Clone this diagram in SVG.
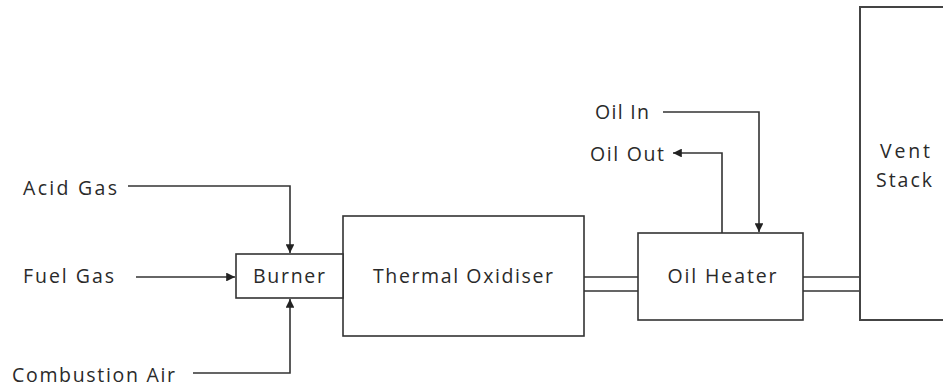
<svg xmlns="http://www.w3.org/2000/svg" width="943" height="387" viewBox="0 0 943 387">
<defs>
<style>
.box{fill:#fff;stroke:#333;stroke-width:1.6}
.ln{fill:none;stroke:#333;stroke-width:1.6}
.t{font-family:"Open Sans","Liberation Sans",Arial,sans-serif;font-size:19.5px;fill:#2a2a2a}
.c{text-anchor:middle}
</style>
<marker id="ah" viewBox="0 0 10 10" refX="10" refY="5" markerWidth="5.5" markerHeight="5.5" orient="auto" markerUnits="strokeWidth">
<path d="M0,0 L10,5 L0,10 Z" fill="#222"/>
</marker>
</defs>
<g id="connectors">
<path class="ln" d="M128,186 H290 V253" marker-end="url(#ah)"/>
<path class="ln" d="M136,277 H235" marker-end="url(#ah)"/>
<path class="ln" d="M193,373 H290 V299" marker-end="url(#ah)"/>
<path class="ln" d="M584,277 H638 M584,291 H638"/>
<path class="ln" d="M803,277 H860 M803,291 H860"/>
<path class="ln" d="M663,112 H759 V232" marker-end="url(#ah)"/>
<path class="ln" d="M722,233 V153 H673" marker-end="url(#ah)"/>
</g>
<g id="thermal-oxidiser">
<rect class="box" x="343" y="216" width="241" height="120"/>
<text class="t c" x="463" y="283" textLength="180" lengthAdjust="spacing">Thermal Oxidiser</text>
</g>
<g id="burner">
<rect class="box" x="236" y="254" width="107" height="44"/>
<text class="t c" x="289" y="283" textLength="72" lengthAdjust="spacing">Burner</text>
</g>
<g id="oil-heater">
<rect class="box" x="638" y="233" width="165" height="87"/>
<text class="t c" x="722" y="283" textLength="109" lengthAdjust="spacing">Oil Heater</text>
</g>
<g id="vent-stack">
<path class="ln" d="M945,7 H860 V320 H945" style="stroke:#444;stroke-width:2"/>
<text class="t c" x="905" y="158" textLength="50" lengthAdjust="spacing">Vent</text>
<text class="t c" x="904" y="187" textLength="56" lengthAdjust="spacing">Stack</text>
</g>
<g id="labels">
<text class="t" x="23" y="195" textLength="94" lengthAdjust="spacing">Acid Gas</text>
<text class="t" x="23" y="283" textLength="91" lengthAdjust="spacing">Fuel Gas</text>
<text class="t" x="12" y="382" textLength="163" lengthAdjust="spacing">Combustion Air</text>
<text class="t" x="595" y="119" textLength="54" lengthAdjust="spacing">Oil In</text>
<text class="t" x="590" y="161" textLength="74" lengthAdjust="spacing">Oil Out</text>
</g>
</svg>
